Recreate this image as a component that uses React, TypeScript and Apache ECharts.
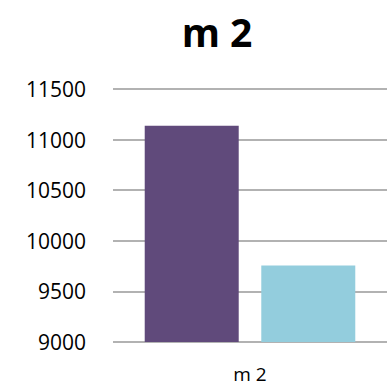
import React, { useEffect, useRef } from "react";
import * as echarts from "echarts";

const categories = ["m 2"];
const seriesA = [11136];
const seriesB = [9755];
const yTicks = { min: 9000, max: 11500, interval: 500 };

export default function App() {
  const ref = useRef<HTMLDivElement>(null);
  useEffect(() => {
    const chart = echarts.init(ref.current!, null, { renderer: "svg" });
    chart.setOption({
      animation: false,
      title: {
        text: "m 2",
        left: 212,
        textAlign: "center",
        top: 7,
        textStyle: { fontFamily: "Open Sans", fontWeight: "bold", fontSize: 39, color: "#000" },
      },
      grid: { left: 113, right: 0, top: 89, bottom: 44 },
      xAxis: {
        type: "category",
        data: categories,
        axisLine: { show: false },
        axisTick: { show: false },
        axisLabel: { color: "#000", fontSize: 19, fontFamily: "Open Sans", margin: 22 },
      },
      yAxis: {
        type: "value",
        min: yTicks.min,
        max: yTicks.max,
        interval: yTicks.interval,
        axisLine: { show: false },
        axisTick: { show: false },
        axisLabel: {
          color: "#000",
          fontSize: 21,
          fontFamily: "Open Sans",
          margin: 27,
          formatter: (v: number) => String(v),
        },
        splitLine: { lineStyle: { color: "#999", width: 1.5 } },
      },
      series: [
        { type: "bar", data: seriesA, barWidth: 94, barGap: "24%", itemStyle: { color: "#604A7B" } },
        { type: "bar", data: seriesB, barWidth: 94, itemStyle: { color: "#93CDDD" } },
      ],
    });
    return () => chart.dispose();
  }, []);
  return <div ref={ref} style={{ width: 387, height: 386, position: "absolute", left: 0, top: 0 }} />;
}
